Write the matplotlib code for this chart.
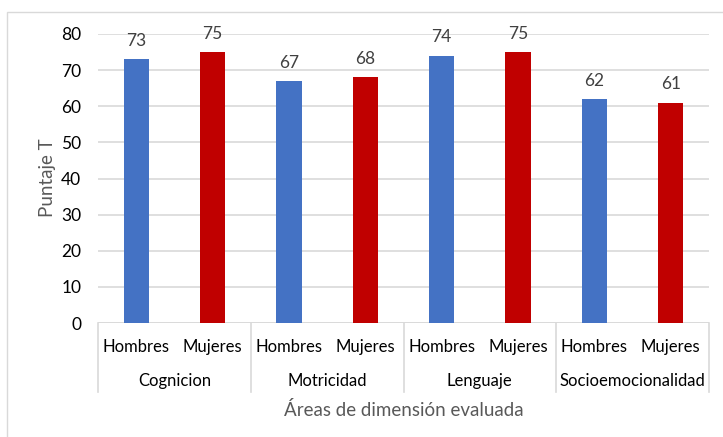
import matplotlib
matplotlib.use("Agg")
import matplotlib.pyplot as plt
from matplotlib.lines import Line2D
from matplotlib.patches import Rectangle
import matplotlib.transforms as mtransforms

plt.rcParams['font.family'] = ['Lato', 'DejaVu Sans']

areas = ["Cognicion", "Motricidad", "Lenguaje", "Socioemocionalidad"]
sexes = ["Hombres", "Mujeres"]
hombres = [73, 67, 74, 62]
mujeres = [75, 68, 75, 61]
colors = {"Hombres": "#4472C4", "Mujeres": "#C00000"}
y_ticks = [0, 10, 20, 30, 40, 50, 60, 70, 80]

W, H = 723, 437
fig = plt.figure(figsize=(W / 100, H / 100), dpi=100)
ax = fig.add_axes([98 / W, (H - 323) / H, (709 - 98) / W, (323 - 34) / H])

# chart frame
fig.patches.append(Rectangle((7 / W, -0.1), 1.2, (H - 12) / H + 0.1,
                             transform=fig.transFigure, fill=False,
                             edgecolor="#D9D9D9", linewidth=1.0))

positions, values, bar_colors, sub_labels = [], [], [], []
for i in range(len(areas)):
    for j, (sex, vals) in enumerate(zip(sexes, [hombres, mujeres])):
        positions.append(2 * i + j)
        values.append(vals[i])
        bar_colors.append(colors[sex])
        sub_labels.append(sex)

bars = ax.bar(positions, values, width=0.33, color=bar_colors, zorder=3)
for x, v in zip(positions, values):
    ax.annotate(str(v), (x, v), xytext=(0, 7.5), textcoords="offset points",
                ha="center", va="bottom", fontsize=12.5, color="#404040")

ax.set_xlim(-0.5, 2 * len(areas) - 0.5)
ax.set_ylim(0, 80)
ax.set_yticks(y_ticks)
ax.tick_params(axis="y", length=0, pad=12, labelsize=12.5, labelcolor="#000000")
ax.set_xticks([])
ax.grid(axis="y", color="#D9D9D9", linewidth=1.2, zorder=0)
for s in ax.spines.values():
    s.set_visible(False)

# category axis line
ax.axhline(0, color="#D9D9D9", linewidth=1.2, zorder=2)

trans = mtransforms.blended_transform_factory(ax.transData, fig.transFigure)
for x, lab in zip(positions, sub_labels):
    ax.text(x, (H - 347) / H, lab, transform=trans, ha="center", va="center",
            fontsize=12, color="#000000")
for i, area in enumerate(areas):
    ax.text(2 * i + 0.5, (H - 381) / H, area, transform=trans, ha="center",
            va="center", fontsize=12, color="#000000")
for k in range(len(areas) + 1):
    fig.add_artist(Line2D([2 * k - 0.5] * 2, [(H - 323) / H, (H - 392) / H],
                          transform=trans, color="#D9D9D9", linewidth=1.2))

fig.text((98 + 709) / 2 / W, (H - 410) / H, "Áreas de dimensión evaluada",
         ha="center", va="center", fontsize=13.5, color="#595959")
fig.text(47 / W, (H - 178) / H, "Puntaje T", rotation=90, ha="center",
         va="center", fontsize=13.5, color="#595959")

fig.savefig("out.png", dpi=100)
